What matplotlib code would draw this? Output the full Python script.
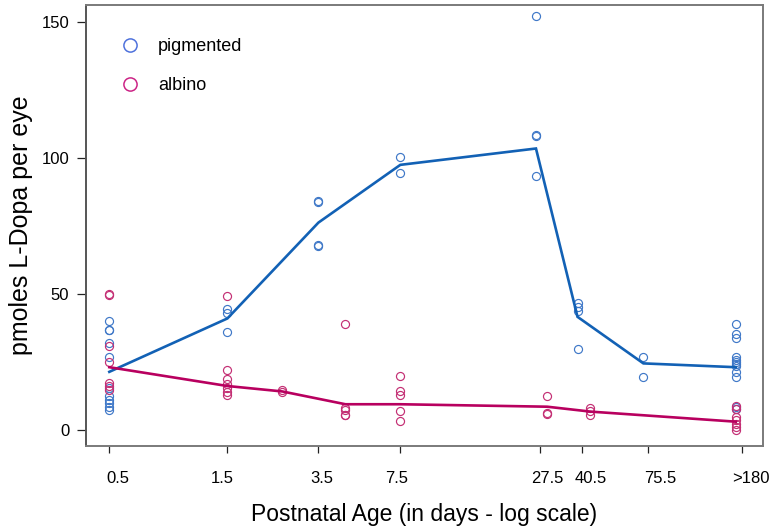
import matplotlib
matplotlib.use('Agg')
import matplotlib.pyplot as plt
from matplotlib.lines import Line2D
from matplotlib.ticker import NullLocator, FixedLocator
from matplotlib.transforms import ScaledTranslation

plt.rcParams['font.family'] = ['Liberation Sans', 'DejaVu Sans']

# ---- data ----
tick_vals = [0.5, 1.5, 3.5, 7.5, 27.5, 40.5, 75.5, 180]
tick_labels = ['0.5', '1.5', '3.5', '7.5', '27.5', '40.5', '75.5', '>180']

pig_ages = [0.5, 1.5, 3.5, 7.5, 26.5, 39, 72, 170]
pig_points = [
    [40, 37, 37, 32, 27, 15.5, 12.5, 11, 10, 8.7, 7.5],
    [44.5, 43, 36.2],
    [84.3, 83.8, 68.2, 67.8],
    [100.5, 94.6],
    [152, 108.6, 108.2, 93.5],
    [46.7, 45.2, 43.7, 30],
    [26.8, 19.6],
    [39, 35.5, 34, 27, 26, 25.2, 24.5, 23.5, 21.5, 19.5, 8.7, 7.7],
]
pig_curve = [21.5, 41.1, 76.3, 97.5, 103.5, 41.7, 24.6, 23.2]

alb_ages = [0.5, 1.5, 2.5, 4.5, 7.5, 29.4, 44, 170]
alb_points = [
    [50, 49.6, 31, 25, 17.3, 16.3, 15],
    [49.5, 22, 19, 17, 15.5, 14, 13],
    [14.8, 14.2],
    [39.2, 8.3, 7.5, 5.8, 5.5],
    [20, 14.5, 13.1, 7, 3.6],
    [12.7, 6.5, 6.2],
    [8.3, 7.0, 5.5],
    [9, 8, 4.8, 3.8, 2.5, 1.3, 0],
]
alb_curve = [23.2, 16.3, 14.3, 9.6, 9.6, 8.7, 6.9, 3.2]

# ---- style ----
pig_pt_col = '#3f78c8'
pig_line_col = '#1261b5'
alb_pt_col = '#c42f74'
alb_line_col = '#b8005f'

fig = plt.figure(figsize=(7.79, 5.29), dpi=100)
ax = fig.add_axes([0.110, 0.1569, 0.8695, 0.8342])

for age, vals in zip(pig_ages, pig_points):
    ax.plot([age] * len(vals), vals, 'o', ls='none', mfc='none',
            mec=pig_pt_col, ms=5.8, mew=0.85)
for age, vals in zip(alb_ages, alb_points):
    ax.plot([age] * len(vals), vals, 'o', ls='none', mfc='none',
            mec=alb_pt_col, ms=5.8, mew=0.85)

ax.plot(pig_ages, pig_curve, color=pig_line_col, lw=1.9, solid_joinstyle='miter')
ax.plot(alb_ages, alb_curve, color=alb_line_col, lw=1.9, solid_joinstyle='miter')

ax.set_xscale('log')
ax.set_xlim(0.4013, 219.2)
ax.set_ylim(-5.73, 156.3)

ax.xaxis.set_major_locator(FixedLocator(tick_vals))
ax.xaxis.set_minor_locator(NullLocator())
ax.set_xticklabels(tick_labels)
ax.set_yticks([0, 50, 100, 150])

ax.tick_params(axis='x', direction='out', length=5, width=0.9, color='#222222',
               labelsize=12, pad=13)
ax.tick_params(axis='y', direction='out', length=6.8, width=0.9, color='#222222',
               labelsize=12, pad=5)

label_shift_px = [9, -5, 3.5, -3.5, 7.5, 9.5, 11.5, 9]
for lab, dx in zip(ax.get_xticklabels(), label_shift_px):
    lab.set_transform(lab.get_transform() + ScaledTranslation(dx / 100, 0, fig.dpi_scale_trans))

for side in ['top', 'right', 'bottom']:
    ax.spines[side].set_color('#7a7a7a')
    ax.spines[side].set_linewidth(1.4)
ax.spines['left'].set_color('#555555')
ax.spines['left'].set_linewidth(1.4)

ax.set_xlabel('Postnatal Age (in days - log scale)', fontsize=16.5, labelpad=12)
ax.set_ylabel('pmoles L-Dopa per eye', fontsize=18, labelpad=6)

handles = [
    Line2D([], [], ls='none', marker='o', mfc='none', mec='#4f72dc', ms=9.5, mew=1.1),
    Line2D([], [], ls='none', marker='o', mfc='none', mec='#cc2486', ms=9.5, mew=1.1),
]
ax.legend(handles, ['pigmented', 'albino'], loc='upper left', frameon=False,
          fontsize=13, labelspacing=1.2, handletextpad=0.8, handlelength=1.5,
          bbox_to_anchor=(0.035, 0.94), borderaxespad=0)

fig.savefig('out.png', dpi=100)
